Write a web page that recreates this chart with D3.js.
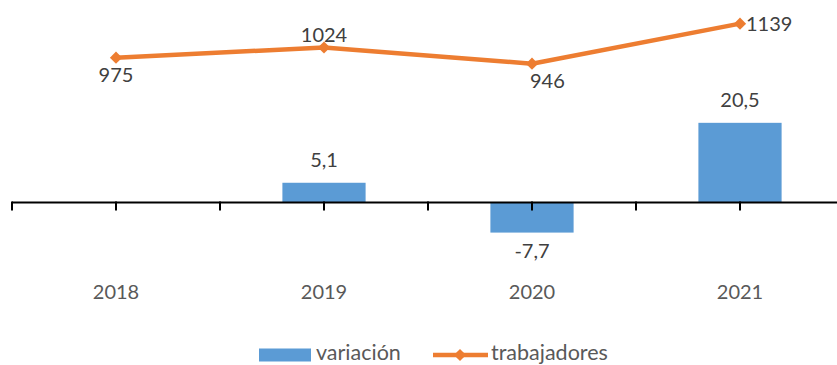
<!DOCTYPE html>
<html>
<head>
<meta charset="utf-8">
<script src="https://cdn.jsdelivr.net/npm/d3@7/dist/d3.min.js"></script>
<style>
  html, body { margin: 0; padding: 0; background: #fff; }
  svg { display: block; font-family: Lato, "Open Sans", sans-serif; }
</style>
</head>
<body>
<svg id="chart" width="837" height="365"></svg>
<script>
// Data
const years = ["2018", "2019", "2020", "2021"];
const variacion = [null, 5.1, -7.7, 20.5];
const trabajadores = [975, 1024, 946, 1139];
const seriesNames = ["variación", "trabajadores"];
// where each worker-count label sits relative to its point
const lineLabelPlacement = ["below", "above", "below-right", "right"];

const blue = "#5B9BD5";
const orange = "#ED7D31";
const textDark = "#404040";
const textGray = "#595959";

const fmt = d3.formatLocale({ decimal: ",", thousands: ".", grouping: [3], currency: ["", "€"], minus: "-" }).format(".1f");

const svg = d3.select("#chart");

// Scales
const x = d3.scaleBand().domain(years).range([12, 844]).paddingInner(0.6).paddingOuter(0.3);
const step = x.step();
const cx = d => x(d) + x.bandwidth() / 2;

const y = d3.scaleLinear().domain([-15, 50]).range([261, 8]);        // variación (primary, hidden)
const y2 = d3.scaleLinear().domain([0, 1200]).range([260, 11]);      // trabajadores (secondary, hidden)

// Bars
const barData = years.map((yr, i) => ({ yr, v: variacion[i] })).filter(d => d.v !== null);
svg.append("g").selectAll("rect").data(barData).join("rect")
  .attr("x", d => x(d.yr))
  .attr("width", x.bandwidth())
  .attr("y", d => y(Math.max(0, d.v)))
  .attr("height", d => Math.abs(y(d.v) - y(0)))
  .attr("fill", blue);

// Bar value labels
svg.append("g").selectAll("text").data(barData).join("text")
  .attr("x", d => cx(d.yr))
  .attr("y", d => d.v >= 0 ? y(d.v) - 16 : y(d.v) + 25)
  .attr("text-anchor", "middle")
  .attr("font-size", 20)
  .attr("fill", textDark)
  .text(d => fmt(d.v));

// Category axis at zero: ticks at category boundaries and centres
const axisY = y(0);
const tickXs = [];
for (let k = 0; k <= years.length * 2; k++) tickXs.push(12 + k * step / 2);
const axisG = svg.append("g");
axisG.append("line")
  .attr("x1", 12).attr("x2", 844)
  .attr("y1", axisY).attr("y2", axisY)
  .attr("stroke", "#000").attr("stroke-width", 2);
axisG.selectAll("line.tick").data(tickXs).join("line")
  .attr("class", "tick")
  .attr("x1", d => d).attr("x2", d => d)
  .attr("y1", axisY - 1).attr("y2", axisY + 8)
  .attr("stroke", "#000").attr("stroke-width", 2);

// Category labels
svg.append("g").selectAll("text").data(years).join("text")
  .attr("x", d => cx(d))
  .attr("y", 299)
  .attr("text-anchor", "middle")
  .attr("font-size", 20)
  .attr("fill", textGray)
  .text(d => d);

// Line series
const pts = years.map((yr, i) => ({ yr, v: trabajadores[i], place: lineLabelPlacement[i] }));
svg.append("path")
  .datum(pts)
  .attr("fill", "none")
  .attr("stroke", orange)
  .attr("stroke-width", 4.5)
  .attr("stroke-linejoin", "round")
  .attr("d", d3.line().x(d => cx(d.yr)).y(d => y2(d.v)));

const diamond = d3.symbol().type(d3.symbolDiamond2).size(95);
svg.append("g").selectAll("path").data(pts).join("path")
  .attr("transform", d => `translate(${cx(d.yr)},${y2(d.v)})`)
  .attr("d", diamond)
  .attr("fill", orange);

// Line value labels
svg.append("g").selectAll("text").data(pts).join("text")
  .attr("x", d => d.place === "right" ? cx(d.yr) + 6 : d.place === "below-right" ? cx(d.yr) - 2 : cx(d.yr))
  .attr("y", d => d.place === "above" ? y2(d.v) - 6 : d.place === "right" ? y2(d.v) + 7 : y2(d.v) + 24)
  .attr("text-anchor", d => (d.place === "right" || d.place === "below-right") ? "start" : "middle")
  .attr("font-size", 20)
  .attr("fill", textDark)
  .text(d => d.v);

// Legend
const leg = svg.append("g");
leg.append("rect").attr("x", 259).attr("y", 348.5).attr("width", 52).attr("height", 13).attr("fill", blue);
leg.append("text").attr("x", 316).attr("y", 360).attr("font-size", 21.5).attr("fill", textGray).text(seriesNames[0]);
leg.append("line").attr("x1", 433).attr("x2", 488).attr("y1", 355).attr("y2", 355)
  .attr("stroke", orange).attr("stroke-width", 4.5);
leg.append("path").attr("transform", "translate(460,355)").attr("d", diamond).attr("fill", orange);
leg.append("text").attr("x", 491).attr("y", 360).attr("font-size", 21.5).attr("fill", textGray).text(seriesNames[1]);
</script>
</body>
</html>
